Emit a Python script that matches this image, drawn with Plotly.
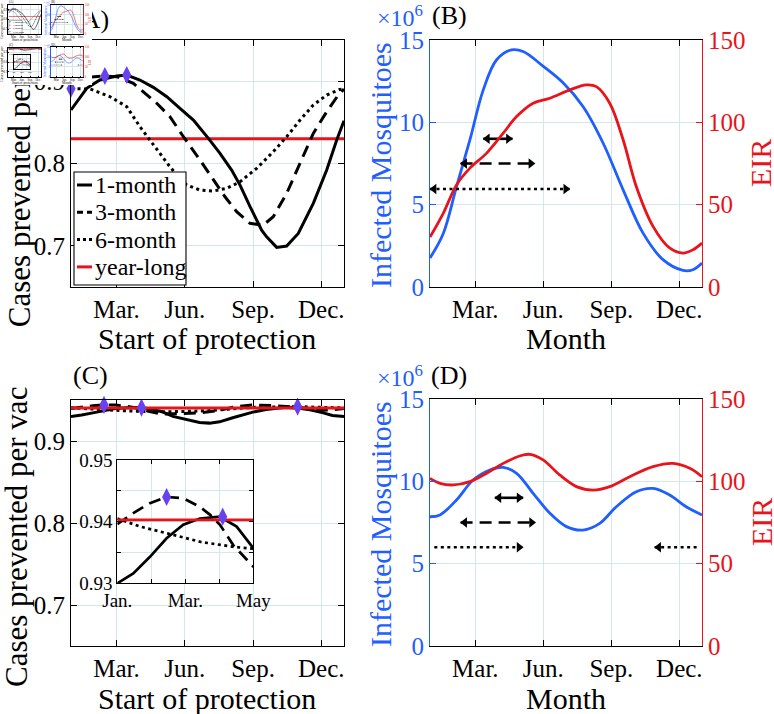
import plotly.graph_objects as go

W, H = 774, 714
FONT = "Liberation Serif"
BLUE = "#1f5eff"
RED = "#e8141b"
VIOLET = "#6842f0"
GRID = "#d3e9e9"
DASH = (12, 7)
DOT = (3, 3.5)
THUMB = 92 / 774  # small copy of the whole figure in the top-left corner

month_ticks = [3, 6, 9, 12]
month_text = ["Mar.", "Jun.", "Sep.", "Dec."]
inset_ticks = [1, 2, 3, 4, 5]
inset_text = ["Jan.", "", "Mar.", "", "May"]
inset_yticks = [0.93, 0.935, 0.94, 0.945, 0.95]
inset_ytext = ["0.93", "", "0.94", "", "0.95"]
legend_names = ["1-month", "3-month", "6-month", "year-long"]

# (A) cases prevented per vaccine, by start month
a1_x = [1.0, 1.69, 2.27, 3.01, 3.45, 4.03, 4.62, 5.21, 5.79, 6.38, 7.04, 7.55, 8.06, 8.43,
        8.87, 9.38, 9.60, 10.04, 10.48, 10.99, 11.65, 12.24, 12.68, 13.0]
a1_y = [0.865, 0.8913, 0.9014, 0.9063, 0.9075, 0.9014, 0.8925, 0.8811, 0.867, 0.8528, 0.8306,
        0.8123, 0.792, 0.7738, 0.7475, 0.7191, 0.711, 0.6981, 0.6997, 0.7151, 0.7516, 0.792,
        0.8285, 0.852]
a3_x = [1.0, 1.7, 2.49, 3.01, 3.74, 4.18, 4.77, 5.35, 5.94, 6.67, 7.25, 7.77, 8.28, 8.87,
        9.45, 9.89, 10.48, 11.07, 11.65, 12.24, 12.75, 13.0]
a3_y = [0.896, 0.9045, 0.9063, 0.9055, 0.8974, 0.8872, 0.8731, 0.8568, 0.8325, 0.8042, 0.7799,
        0.7596, 0.7414, 0.7273, 0.7252, 0.7353, 0.7637, 0.8002, 0.8366, 0.8629, 0.8832, 0.8905]
a6_x = [1.0, 1.84, 2.72, 3.45, 4.03, 4.47, 4.91, 5.35, 5.79, 6.09, 6.67, 7.25, 7.84, 8.43,
        9.16, 9.89, 10.48, 11.07, 11.65, 12.24, 12.82, 13.0]
a6_y = [0.8909, 0.8905, 0.8811, 0.869, 0.8447, 0.8285, 0.8123, 0.796, 0.782, 0.7738, 0.7677,
        0.7665, 0.7698, 0.7778, 0.7941, 0.8143, 0.8325, 0.8528, 0.871, 0.8832, 0.890, 0.8909]
a_year = 0.83
a_peak_x = [1.0, 2.49, 3.45]
a_peak_y = [0.8909, 0.9063, 0.9075]

# (B) seasonal mosquitoes (x1e6) and EIR
b_mosq_x = [1, 1.59, 2.17, 2.76, 3.35, 3.94, 4.6, 5.11, 6.0, 6.87, 7.75, 8.64, 9.52, 10.4,
            11.28, 12.16, 12.6, 13]
b_mosq = [1.76, 3.27, 6.1, 8.93, 11.97, 13.8, 14.4, 14.3, 13.4, 12.4, 10.96, 8.73, 5.9, 3.27,
          1.66, 1.01, 1.05, 1.45]
b_eir_x = [1, 1.59, 2.17, 2.76, 3.5, 4.23, 4.82, 5.55, 6.29, 7.17, 7.9, 8.34, 8.93, 9.52,
           10.1, 10.84, 11.57, 12.16, 12.6, 13]
b_eir = [30.3, 44.9, 62, 72.2, 81.3, 93.4, 103.5, 111.6, 114.6, 119.7, 122.7, 121.7, 111.6,
         89.4, 61, 36.8, 23.7, 20.6, 22.6, 26.7]
b_arrow_from = [3.35, 2.35, 1.0]
b_arrow_to = [4.64, 5.63, 7.17]
b_arrow_level = [9.0, 7.5, 5.95]
b_arrow_style = ["solid", "dash", "dot"]
b_arrow_heads = ["both", "both", "both"]

# (C) cases prevented per vaccine, second setting
c1_x = [1, 1.47, 1.96, 2.45, 2.94, 3.43, 4.02, 4.51, 5.0, 5.48, 6.07, 6.65, 7.09, 7.53, 8.11,
        8.99, 9.57, 10.45, 11.03, 11.5, 12.09, 12.49, 13]
c1_y = [0.930, 0.9316, 0.9343, 0.9373, 0.9395, 0.9405, 0.9408, 0.9392, 0.9357, 0.930, 0.926,
        0.9226, 0.9218, 0.9234, 0.9283, 0.9352, 0.9384, 0.9412, 0.940, 0.938, 0.9343, 0.9311,
        0.930]
c3_x = [1, 1.47, 1.96, 2.45, 2.94, 3.43, 3.73, 4.02, 4.41, 5.0, 5.48, 6.07, 6.65, 7.5, 8.11,
        8.99, 9.87, 11.03, 11.9, 12.5, 13]
c3_y = [0.9396, 0.9414, 0.943, 0.944, 0.9438, 0.9424, 0.9411, 0.9395, 0.9362, 0.9327, 0.9331,
        0.9335, 0.9343, 0.9372, 0.9412, 0.944, 0.9432, 0.9412, 0.9372, 0.9382, 0.9396]
c6_x = [1, 1.67, 2.47, 3.46, 4.45, 5, 6, 7, 8, 9, 10, 10.96, 12, 13]
c6_y = [0.9405, 0.9392, 0.9381, 0.9367, 0.9359, 0.9356, 0.936, 0.937, 0.939, 0.941, 0.9415,
        0.942, 0.941, 0.9403]
c_year = 0.9403
c_peak_x = [2.45, 4.1, 10.96]
c_peak_y = [0.944, 0.9408, 0.942]

# (D) flatter seasonality
d_mosq_x = [1, 1.44, 2.17, 2.9, 3.64, 4.23, 4.82, 5.55, 6.29, 7.02, 7.75, 8.49, 9.22, 10.1,
            10.84, 11.57, 12.3, 13]
d_mosq = [7.85, 7.96, 8.87, 10.08, 10.69, 10.85, 10.49, 9.27, 8.06, 7.25, 7.04, 7.45, 8.46,
          9.37, 9.57, 9.17, 8.46, 7.96]
d_eir_x = [1, 1.44, 2.03, 2.76, 3.5, 4.23, 4.96, 5.4, 5.99, 6.72, 7.46, 8.2, 8.93, 9.81,
           10.84, 11.72, 12.46, 13]
d_eir = [101.8, 98.8, 97.8, 99.8, 104.9, 110.9, 115.4, 116.4, 113, 103.9, 96.8, 94.7, 96.8,
         102.8, 108.9, 110.9, 107.9, 102.8]
d_arrow_from = [3.86, 2.35, 1.19, 10.91]
d_arrow_to = [5.11, 5.66, 5.11, 12.9]
d_arrow_level = [9.0, 7.5, 6.0, 6.0]
d_arrow_style = ["solid", "dash", "dot", "dot"]
d_arrow_heads = ["both", "both", "right", "left"]


def ax_id(letter, n):
    return letter if n == 1 else f"{letter}{n}"


def ax_key(letter, n):
    return f"{letter}axis" if n == 1 else f"{letter}axis{n}"


def dom(x0, x1, y0, y1, s):
    return [s * x0 / W, s * x1 / W], [1 - s * y1 / H, 1 - s * y0 / H]


def dash_of(style, s):
    if style == "solid":
        return "solid"
    pat = DASH if style == "dash" else DOT
    return ",".join(f"{v * s:.2f}px" for v in pat)


def line(x, y, xa, ya, s, color="black", width=3.0, style="solid", shape="linear"):
    return go.Scatter(x=x, y=y, xaxis=xa, yaxis=ya, mode="lines",
                      line=dict(color=color, width=max(width * s, 0.6),
                                dash=dash_of(style, s), shape=shape),
                      showlegend=False, hoverinfo="skip")


def peaks(x, y, xa, ya, s):
    return go.Scatter(x=x, y=y, xaxis=xa, yaxis=ya, mode="markers",
                      marker=dict(symbol="diamond-tall", size=max(13 * s, 1.5), color=VIOLET),
                      showlegend=False, hoverinfo="skip", cliponaxis=False)


def axis(s, color="black", size=25, **kw):
    d = dict(showline=True, linecolor=color, linewidth=max(1.1 * s, 0.3),
             ticks="inside", ticklen=6 * s, tickwidth=max(1.1 * s, 0.3), tickcolor=color,
             tickfont=dict(family=FONT, size=max(size * s, 1), color=color),
             showgrid=True, gridcolor=GRID, gridwidth=max(1.0 * s, 0.3),
             zeroline=False, fixedrange=True, automargin=False)
    d.update(kw)
    return d


def add_text(fig, x, y, t, size, s, color="black", angle=0, below=False, anchor="center"):
    px, py = s * x / W, 1 - s * y / H
    font = dict(family=FONT, size=max(size * s, 1), color=color)
    if below:
        fig.add_shape(type="rect", xref="paper", yref="paper",
                      x0=px - 0.001, x1=px + 0.001, y0=py - 0.001, y1=py + 0.001,
                      line=dict(width=0), layer="below",
                      label=dict(text=t, font=font, textangle=angle))
    else:
        fig.add_annotation(x=px, y=py, xref="paper", yref="paper", text=t, showarrow=False,
                           font=font, textangle=angle, xanchor=anchor, yanchor="middle")


def add_arrows(fig, x0s, x1s, levels, styles, heads, xa, ya, s):
    off = 0.18
    for x0, x1, lv, st, hd in zip(x0s, x1s, levels, styles, heads):
        fig.add_trace(line([x0, x1], [lv, lv], xa, ya, s, width=2.6, style=st))
        mx, sym = [], []
        if hd in ("both", "left"):
            mx.append(x0 + off)
            sym.append("triangle-left")
        if hd in ("both", "right"):
            mx.append(x1 - off)
            sym.append("triangle-right")
        fig.add_trace(go.Scatter(x=mx, y=[lv] * len(mx), xaxis=xa, yaxis=ya, mode="markers",
                                 marker=dict(symbol=sym, size=max(9 * s, 1), color="black"),
                                 showlegend=False, hoverinfo="skip", cliponaxis=False))


def build(fig, s, nx, ny):
    main = s == 1
    xa = {k: nx + i for i, k in enumerate(["A", "B", "C", "D", "I"])}
    ya = {k: ny + i for i, k in enumerate(["A", "BL", "BR", "C", "DL", "DR", "I"])}
    X = {k: ax_id("x", v) for k, v in xa.items()}
    Y = {k: ax_id("y", v) for k, v in ya.items()}

    # panel A
    fig.add_trace(line([1, 13], [a_year, a_year], X["A"], Y["A"], s, RED))
    fig.add_trace(line(a1_x, a1_y, X["A"], Y["A"], s))
    fig.add_trace(line(a3_x, a3_y, X["A"], Y["A"], s, style="dash"))
    fig.add_trace(line(a6_x, a6_y, X["A"], Y["A"], s, style="dot"))
    fig.add_trace(peaks(a_peak_x, a_peak_y, X["A"], Y["A"], s))

    # panel B
    fig.add_trace(line(b_mosq_x, b_mosq, X["B"], Y["BL"], s, BLUE, 2.8, shape="spline"))
    add_arrows(fig, b_arrow_from, b_arrow_to, b_arrow_level, b_arrow_style, b_arrow_heads,
               X["B"], Y["BL"], s)
    fig.add_trace(line(b_eir_x, b_eir, X["B"], Y["BR"], s, RED, 2.8, shape="spline"))

    # panel C
    fig.add_trace(line(c1_x, c1_y, X["C"], Y["C"], s))
    fig.add_trace(line(c3_x, c3_y, X["C"], Y["C"], s, style="dash"))
    fig.add_trace(line(c6_x, c6_y, X["C"], Y["C"], s, style="dot"))
    fig.add_trace(line([1, 13], [c_year, c_year], X["C"], Y["C"], s, RED))
    fig.add_trace(peaks(c_peak_x, c_peak_y, X["C"], Y["C"], s))

    # panel D
    fig.add_trace(line(d_mosq_x, d_mosq, X["D"], Y["DL"], s, BLUE, 2.8, shape="spline"))
    add_arrows(fig, d_arrow_from, d_arrow_to, d_arrow_level, d_arrow_style, d_arrow_heads,
               X["D"], Y["DL"], s)
    fig.add_trace(line(d_eir_x, d_eir, X["D"], Y["DR"], s, RED, 2.8, shape="spline"))

    # inset of C
    fig.add_trace(line(c1_x, c1_y, X["I"], Y["I"], s, width=2.7))
    fig.add_trace(line(c3_x, c3_y, X["I"], Y["I"], s, width=2.7, style="dash"))
    fig.add_trace(line(c6_x, c6_y, X["I"], Y["I"], s, width=2.7, style="dot"))
    fig.add_trace(line([1, 13], [c_year, c_year], X["I"], Y["I"], s, RED, 2.7))
    fig.add_trace(peaks(c_peak_x, c_peak_y, X["I"], Y["I"], s))

    month_axis = dict(range=[1, 13], tickvals=month_ticks, ticktext=month_text, mirror="ticks")
    left_px, right_px = (71, 344), (430, 702)
    top_px, bot_px = (40, 287), (400, 646)

    dx, dy = dom(*left_px, *top_px, s)
    fig.layout[ax_key("x", xa["A"])] = axis(s, domain=dx, anchor=Y["A"], **month_axis)
    fig.layout[ax_key("y", ya["A"])] = axis(s, domain=dy, anchor=X["A"], range=[0.65, 0.95],
                                           tickvals=[0.7, 0.8, 0.9], mirror="ticks")
    dx, dy = dom(*left_px, *bot_px, s)
    fig.layout[ax_key("x", xa["C"])] = axis(s, domain=dx, anchor=Y["C"], **month_axis)
    fig.layout[ax_key("y", ya["C"])] = axis(s, domain=dy, anchor=X["C"], range=[0.65, 0.95],
                                           tickvals=[0.7, 0.8, 0.9], mirror="ticks")
    for key, (yl, yr), ytb in [("B", ("BL", "BR"), top_px), ("D", ("DL", "DR"), (399, 646))]:
        dx, dy = dom(*right_px, *ytb, s)
        fig.layout[ax_key("x", xa[key])] = axis(s, domain=dx, anchor=Y[yl], **month_axis)
        fig.layout[ax_key("y", ya[yl])] = axis(s, BLUE, domain=dy, anchor=X[key],
                                              range=[0, 15], tickvals=[0, 5, 10, 15])
        fig.layout[ax_key("y", ya[yr])] = axis(s, RED, anchor=X[key], overlaying=Y[yl],
                                              side="right", range=[0, 150],
                                              tickvals=[0, 50, 100, 150], showgrid=False)
    dx, dy = dom(117.3, 253.3, 460, 583.3, s)
    fig.layout[ax_key("x", xa["I"])] = axis(s, size=19, domain=dx, anchor=Y["I"], range=[1, 5],
                                           tickvals=inset_ticks, ticktext=inset_text,
                                           mirror="ticks", ticklen=4 * s)
    fig.layout[ax_key("y", ya["I"])] = axis(s, size=19, domain=dy, anchor=X["I"],
                                           range=[0.93, 0.95], tickvals=inset_yticks,
                                           ticktext=inset_ytext, mirror="ticks", ticklen=4 * s)

    # text
    add_text(fig, 91, 16, "(A)", 26, s, below=main)
    add_text(fig, 16, 177, "Cases prevented per vac", 31, s, angle=-90, below=main)
    add_text(fig, 16, 537, "Cases prevented per vac", 31, s, angle=-90)
    add_text(fig, 449, 15, "(B)", 26, s)
    add_text(fig, 90, 375, "(C)", 26, s)
    add_text(fig, 449, 375, "(D)", 26, s)
    for yc in (16, 376):
        add_text(fig, 425, yc, "×10<sup>6</sup>", 24, s, BLUE, anchor="right")
    for yc in (338, 698):
        add_text(fig, 207, yc, "Start of protection", 30, s)
        add_text(fig, 566, yc, "Month", 30, s)
    for yc in (165, 524):
        add_text(fig, 380, yc, "Infected Mosquitoes", 30, s, BLUE, angle=-90)
        add_text(fig, 761, yc - 2, "EIR", 30, s, RED, angle=-90)

    # legend of panel A
    fig.add_shape(type="rect", xref="paper", yref="paper", layer="above",
                  x0=s * 74 / W, x1=s * 186 / W, y0=1 - s * 285 / H, y1=1 - s * 172 / H,
                  fillcolor="white", line=dict(color="black", width=max(1.1 * s, 0.3)))
    styles = [("black", "solid"), ("black", "dash"), ("black", "dot"), (RED, "solid")]
    for i, (name, (col, st)) in enumerate(zip(legend_names, styles)):
        yc = 185 + i * 27.3
        pat = {"solid": "solid", "dash": f"{6 * s:.2f}px,{4 * s:.2f}px",
               "dot": f"{3 * s:.2f}px,{3 * s:.2f}px"}[st]
        fig.add_shape(type="line", xref="paper", yref="paper", layer="above",
                      x0=s * 77 / W, x1=s * 92 / W, y0=1 - s * yc / H, y1=1 - s * yc / H,
                      line=dict(color=col, width=max(3 * s, 0.5), dash=pat))
        add_text(fig, 93, yc, name, 24, s, anchor="left")


fig = go.Figure()
build(fig, 1, 1, 1)

# white cover under the thumbnail copy
fig.add_trace(go.Scatter(x=[None], y=[None], xaxis="x6", yaxis="y8", mode="lines",
                         showlegend=False, hoverinfo="skip"))
fig.layout["xaxis6"] = dict(domain=[0, 92 / W], anchor="y8", visible=False, range=[0, 1])
fig.layout["yaxis8"] = dict(domain=[1 - 85 / H, 1], anchor="x6", visible=False, range=[0, 1])

build(fig, THUMB, 7, 9)

fig.update_layout(width=W, height=H,
                  margin=dict(l=0, r=0, t=0, b=0, pad=0, autoexpand=False),
                  paper_bgcolor="white", plot_bgcolor="white", showlegend=False,
                  font=dict(family=FONT, color="black"))
fig.write_html("out.html", config={"displayModeBar": False},
               post_script="document.body.style.margin='0';"
                           "document.body.style.overflow='hidden';")
